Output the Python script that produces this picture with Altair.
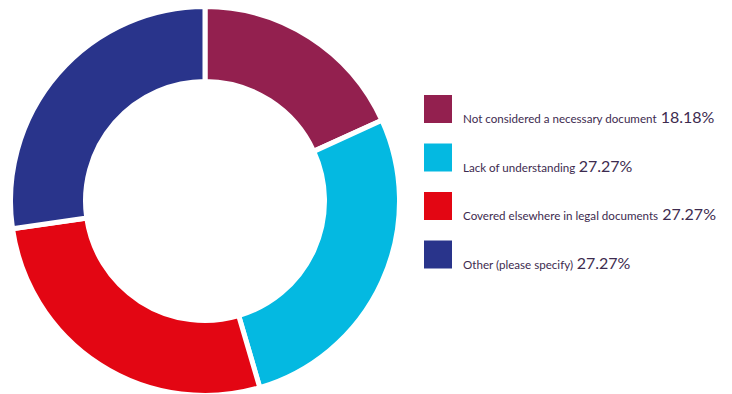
import glob
import struct
import altair as alt
import pandas as pd

# ---- data ----
labels = [
    "Not considered a necessary document",
    "Lack of understanding",
    "Covered elsewhere in legal documents",
    "Other (please specify)",
]
values = [18.18, 27.27, 27.27, 27.27]
pct_text = ["18.18%", "27.27%", "27.27%", "27.27%"]
colors = ["#93204f", "#04b9e1", "#e30613", "#29348b"]

FONT = "Lato"
LABEL_SIZE = 11.6
PCT_SIZE = 16
TEXT_COLOR = "#3d2b4f"


# ---- text width measurement from the installed font file ----
def load_metrics(patterns):
    for pat in patterns:
        files = glob.glob(pat, recursive=True)
        if files:
            try:
                return parse_ttf(sorted(files)[0])
            except Exception:
                continue
    return None


def parse_ttf(path):
    data = open(path, "rb").read()
    num_tables = struct.unpack(">H", data[4:6])[0]
    tables = {}
    for i in range(num_tables):
        rec = data[12 + 16 * i: 28 + 16 * i]
        tag = rec[:4].decode("latin1")
        off, length = struct.unpack(">II", rec[8:16])
        tables[tag] = off
    upem = struct.unpack(">H", data[tables["head"] + 18: tables["head"] + 20])[0]
    nhm = struct.unpack(">H", data[tables["hhea"] + 34: tables["hhea"] + 36])[0]
    hm = tables["hmtx"]
    adv = [struct.unpack(">H", data[hm + 4 * i: hm + 4 * i + 2])[0] for i in range(nhm)]
    cm = tables["cmap"]
    n = struct.unpack(">H", data[cm + 2: cm + 4])[0]
    sub = None
    for i in range(n):
        pid, eid, off = struct.unpack(">HHI", data[cm + 4 + 8 * i: cm + 12 + 8 * i])
        fmt = struct.unpack(">H", data[cm + off: cm + off + 2])[0]
        if fmt == 4 and ((pid == 3 and eid == 1) or pid == 0):
            sub = cm + off
            break
    seg2 = struct.unpack(">H", data[sub + 6: sub + 8])[0]
    seg = seg2 // 2
    ends = struct.unpack(">" + "H" * seg, data[sub + 14: sub + 14 + seg2])
    so = sub + 16 + seg2
    starts = struct.unpack(">" + "H" * seg, data[so: so + seg2])
    do = so + seg2
    deltas = struct.unpack(">" + "h" * seg, data[do: do + seg2])
    ro = do + seg2
    ranges = struct.unpack(">" + "H" * seg, data[ro: ro + seg2])

    def gid(c):
        for i in range(seg):
            if ends[i] >= c:
                if starts[i] > c:
                    return 0
                if ranges[i] == 0:
                    return (c + deltas[i]) & 0xFFFF
                addr = ro + 2 * i + ranges[i] + 2 * (c - starts[i])
                g = struct.unpack(">H", data[addr: addr + 2])[0]
                return (g + deltas[i]) & 0xFFFF if g else 0
        return 0

    def width(s, size):
        tot = 0
        for ch in s:
            g = gid(ord(ch))
            tot += adv[min(g, nhm - 1)]
        return tot * size / upem

    return width


measure = load_metrics([
    "/usr/share/fonts/**/Lato-Regular.ttf",
    "/usr/share/fonts/**/Lato*Regular*.ttf",
    "/usr/local/share/fonts/**/Lato-Regular.ttf",
])
if measure is None:
    def measure(s, size):
        return 0.48 * size * len(s)

LABEL_X = 455
label_w = [measure(l + " ", LABEL_SIZE) for l in labels]

df = pd.DataFrame({
    "label": labels,
    "value": values,
    "pct": pct_text,
    "order": list(range(len(labels))),
    "pct_x": [LABEL_X + w for w in label_w],
})

color_scale = alt.Scale(domain=labels, range=colors)
y_scale = alt.Scale(domain=labels, range=[101, 246.5], padding=0)

base = alt.Chart(df)

donut = base.mark_arc(innerRadius=119.5, outerRadius=194.5, stroke="white", strokeWidth=5).encode(
    theta=alt.Theta("value:Q", stack=True),
    order=alt.Order("order:Q"),
    color=alt.Color("label:N", scale=color_scale, legend=None),
    x=alt.value(197),
    y=alt.value(193),
)

squares = base.mark_square(size=784, opacity=1, shape="square").encode(
    x=alt.value(430),
    y=alt.Y("label:N", scale=y_scale, axis=None),
    color=alt.Color("label:N", scale=color_scale, legend=None),
)

label_text = base.mark_text(
    align="left", baseline="alphabetic", dy=14, font=FONT, fontSize=LABEL_SIZE, color=TEXT_COLOR
).encode(
    x=alt.value(LABEL_X),
    y=alt.Y("label:N", scale=y_scale, axis=None),
    text="label:N",
)

pct_marks = base.mark_text(
    align="left", baseline="alphabetic", dy=14, font=FONT, fontSize=PCT_SIZE, color=TEXT_COLOR
).encode(
    x=alt.X("pct_x:Q", scale=None),
    y=alt.Y("label:N", scale=y_scale, axis=None),
    text="pct:N",
)

chart = alt.layer(donut, squares, label_text, pct_marks).properties(
    width=716, height=386, autosize="none", padding=0
).configure_view(stroke=None)

chart.save("out.html", embed_options={"renderer": "svg", "actions": False})
